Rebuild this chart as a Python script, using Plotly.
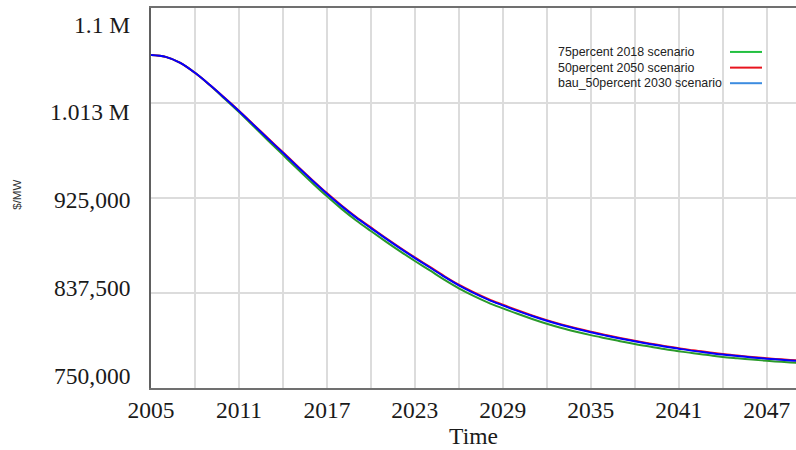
import plotly.graph_objects as go

# ---------------- data ----------------
years = list(range(2005, 2051))

pct75_2018 = [1056800, 1055000, 1049500, 1040300, 1029000, 1016700, 1004150, 991000, 977800, 964700,
              951600, 938800, 926500, 915000, 904300, 894600, 885100, 875900, 867000, 858500,
              849800, 841800, 834900, 828700, 823400, 818350, 813600, 809200, 805300, 801850,
              798700, 795900, 793150, 790550, 788200, 785900, 783900, 781950, 780300, 778650,
              777400, 776200, 775050, 774100, 773250, 772600]

pct50_2050 = [1056800, 1055000, 1049500, 1040300, 1029300, 1017500, 1005350, 992600, 979800, 967100,
              954300, 941700, 929500, 918100, 907500, 897900, 888400, 879200, 870300, 861800,
              853100, 845100, 838200, 832000, 826700, 821650, 816900, 812500, 808600, 805100,
              801900, 798900, 796100, 793500, 791100, 788800, 786700, 784700, 782950, 781250,
              779900, 778600, 777400, 776400, 775500, 774800]

bau_50_2030 = [1056800, 1055000, 1049500, 1040300, 1029300, 1017400, 1005150, 992300, 979400, 966600,
               953700, 941100, 928900, 917500, 906900, 897300, 887800, 878600, 869700, 861200,
               852500, 844500, 837600, 831400, 826100, 821050, 816300, 811900, 808000, 804500,
               801300, 798400, 795600, 793000, 790600, 788300, 786200, 784200, 782500, 780800,
               779500, 778200, 777000, 776000, 775100, 774400]

series_names = ["75percent 2018 scenario", "50percent 2050 scenario", "bau_50percent 2030 scenario"]

y_tick_vals = [750000, 837500, 925000, 1012500, 1100000]
y_tick_text = ["750,000", "837,500", "925,000", "1.013 M", "1.1 M"]

# ---------------- styling ----------------
W, H = 796, 450
ML, MR, MT, MB = 151, 0, 8, 61.5
line_colors = ["#2a9a2a", "#ff1010", "#0000ff"]
legend_colors = ["#22c040", "#e8141e", "#3c8ce0"]
y_label_shift = [12.5, 5.4, -1.7, -8.8, -17]   # Vensim-style label offsets (px)
serif = "Liberation Serif"
sans = "Liberation Sans"

pw, ph = W - ML - MR, H - MT - MB
def px_x(p):
    return (p - ML) / pw
def px_y(p):
    return (H - MB - p) / ph

fig = go.Figure()
for name, vals, col in zip(series_names, [pct75_2018, pct50_2050, bau_50_2030], line_colors):
    fig.add_trace(go.Scatter(x=years, y=vals, mode="lines", name=name,
                             line=dict(color=col, width=2, shape="spline"),
                             showlegend=False))

annotations = []
for v, t, s in zip(y_tick_vals, y_tick_text, y_label_shift):
    annotations.append(dict(xref="paper", yref="y", x=0, y=v, text=t, showarrow=False,
                            xanchor="right", yanchor="middle", xshift=-19, yshift=s,
                            font=dict(family=serif, size=23.5, color="#1a1a1a")))
annotations.append(dict(xref="paper", yref="paper", x=px_x(17), y=px_y(195), text="$/MW",
                        showarrow=False, textangle=-90, xanchor="center", yanchor="middle",
                        font=dict(family=sans, size=11.5, color="#333333")))

shapes = [dict(type="rect", xref="paper", yref="paper", x0=px_x(541), x1=px_x(778),
               y0=px_y(89), y1=px_y(43), fillcolor="white", line=dict(width=0), layer="between")]
leg_rows = [52, 67.7, 83.3]
for name, col, r in zip(series_names, legend_colors, leg_rows):
    annotations.append(dict(xref="paper", yref="paper", x=px_x(556), y=px_y(r), text=name,
                            showarrow=False, xanchor="left", yanchor="middle",
                            font=dict(family=sans, size=12.4, color="#222222")))
    shapes.append(dict(type="line", xref="paper", yref="paper", x0=px_x(730), x1=px_x(762),
                       y0=px_y(r), y1=px_y(r), line=dict(color=col, width=2), layer="above"))

fig.update_layout(
    width=W, height=H, autosize=False,
    margin=dict(l=ML, r=MR, t=MT, b=MB, pad=0),
    paper_bgcolor="white", plot_bgcolor="white",
    annotations=annotations, shapes=shapes,
    xaxis=dict(range=[2005, 2049.0], tick0=2005, dtick=6, ticks="",
               showgrid=True, gridcolor="#dcdcdc", gridwidth=1.5,
               minor=dict(dtick=3, tick0=2005, showgrid=True, gridcolor="#dcdcdc", gridwidth=1.5),
               showline=True, linecolor="#707070", linewidth=1.5, mirror=True,
               zeroline=False,
               tickfont=dict(family=serif, size=23.5, color="#1a1a1a"),
               title=dict(text="Time", font=dict(family=serif, size=23.5, color="#1a1a1a"), standoff=4)),
    yaxis=dict(range=[750000, 1100000], tick0=750000, dtick=87500, ticks="",
               showticklabels=False, showgrid=True, gridcolor="#dcdcdc", gridwidth=1.5,
               showline=True, linecolor="#606060", linewidth=1.5, zeroline=False),
)

fig.write_html("out.html", config={"displayModeBar": False},
               post_script="document.body.style.margin='0';document.body.style.overflow='hidden';")
